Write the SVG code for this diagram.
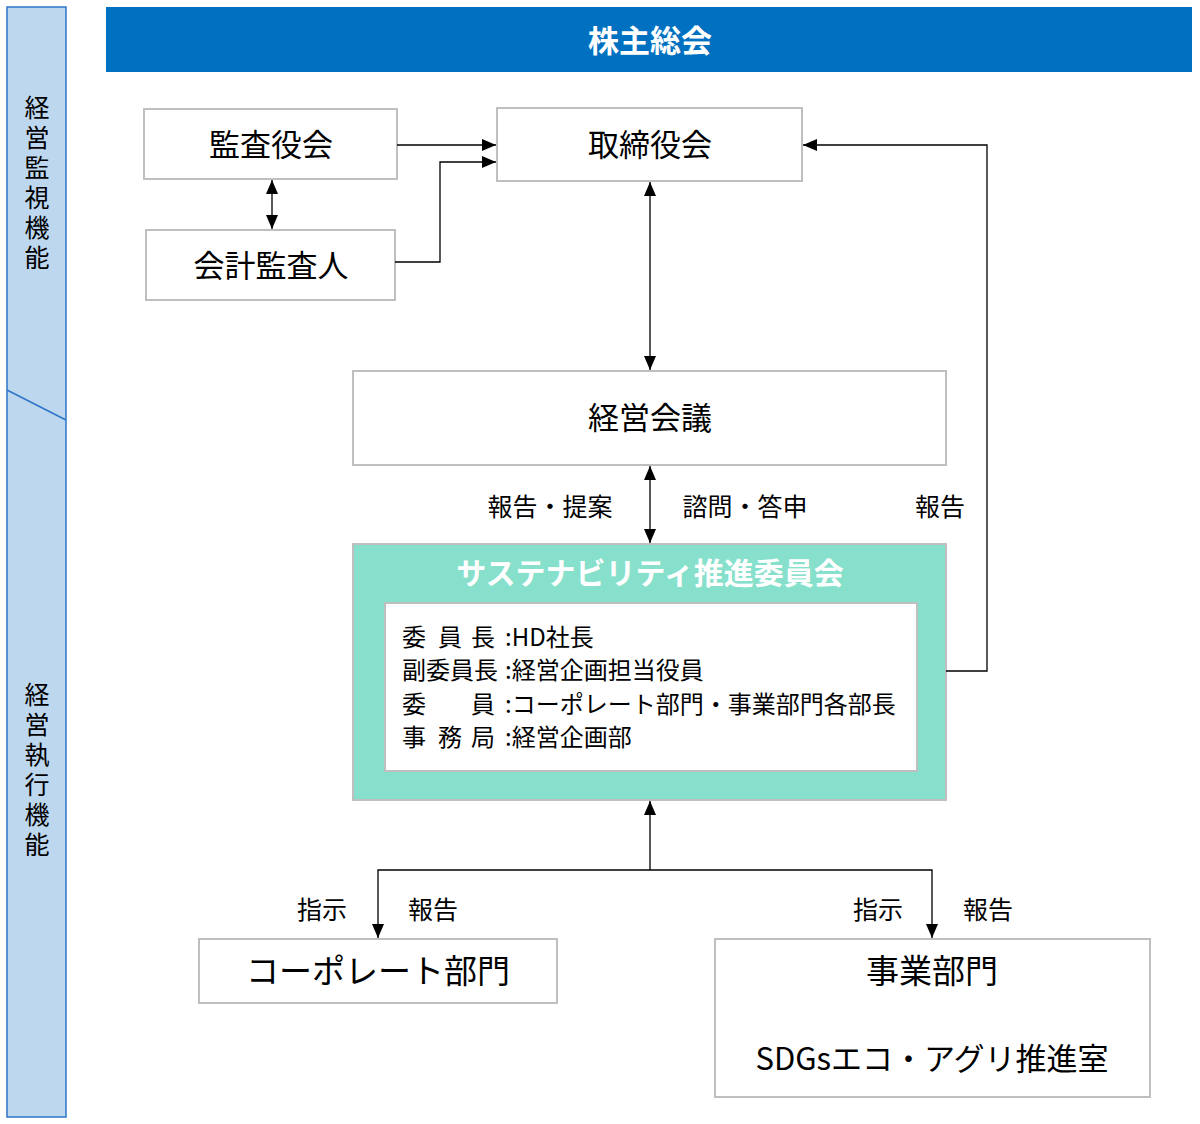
<svg xmlns="http://www.w3.org/2000/svg" width="1200" height="1124" viewBox="0 0 1200 1124">
<style>
text{font-family:"Noto Sans CJK JP","Noto Sans",sans-serif;fill:#000}
.box{fill:#fff;stroke:#BFBFBF;stroke-width:2}
.t32{font-size:31px;text-anchor:middle}
.lbl{font-size:25px;text-anchor:middle}
.side{font-size:25px;writing-mode:vertical-rl;letter-spacing:5px}
.in{font-size:24px}
.con{fill:none;stroke:#000;stroke-width:1.3}
</style>
<defs>
<marker id="ah" markerUnits="userSpaceOnUse" markerWidth="14" markerHeight="12" refX="14" refY="6" orient="auto-start-reverse" viewBox="0 0 14 12">
<path d="M0,0 L14,6 L0,12 z" fill="#000"/>
</marker>
</defs>
<rect width="1200" height="1124" fill="#fff"/>
<g id="sidebar">
<rect x="7" y="7" width="59" height="1110" fill="#BDD7EE" stroke="#2E75C8" stroke-width="1.5"/>
<line x1="7" y1="390" x2="66" y2="420" stroke="#2E75C8" stroke-width="1.5"/>
<text class="side" x="37" y="95">経営監視機能</text>
<text class="side" x="37" y="682">経営執行機能</text>
</g>
<g id="shareholders">
<rect x="106" y="7" width="1086" height="65" fill="#0070C0"/>
<text x="650" y="52" class="t32" style="fill:#fff;font-weight:bold">株主総会</text>
</g>
<g id="auditors">
<rect x="144" y="109" width="253" height="70" class="box"/>
<text x="271" y="156" class="t32">監査役会</text>
</g>
<g id="accountant">
<rect x="146" y="230" width="249" height="70" class="box"/>
<text x="271" y="277" class="t32">会計監査人</text>
</g>
<g id="board">
<rect x="497" y="108" width="305" height="73" class="box"/>
<text x="650" y="156" class="t32">取締役会</text>
</g>
<g id="management">
<rect x="353" y="371" width="593" height="94" class="box"/>
<text x="650" y="429" class="t32">経営会議</text>
</g>
<g id="sustainability">
<rect x="353" y="544" width="593" height="256" fill="#86E0CB" stroke="#BFBFBF" stroke-width="2"/>
<text x="650" y="584" class="t32" style="fill:#fff;font-weight:bold;font-size:30px">サステナビリティ推進委員会</text>
<rect x="385" y="603" width="532" height="168" class="box"/>
<text class="in" y="646"><tspan x="402">委</tspan><tspan x="438">員</tspan><tspan x="471">長</tspan><tspan x="505">:HD社長</tspan></text>
<text class="in" y="679"><tspan x="402">副委員長</tspan><tspan x="505">:経営企画担当役員</tspan></text>
<text class="in" y="713"><tspan x="402">委</tspan><tspan x="471">員</tspan><tspan x="505">:コーポレート部門・事業部門各部長</tspan></text>
<text class="in" y="746"><tspan x="402">事</tspan><tspan x="438">務</tspan><tspan x="471">局</tspan><tspan x="505">:経営企画部</tspan></text>
</g>
<g id="corporate">
<rect x="199" y="939" width="358" height="64" class="box"/>
<text x="378" y="983" class="t32" style="font-size:33px">コーポレート部門</text>
</g>
<g id="business">
<rect x="715" y="939" width="435" height="158" class="box"/>
<text x="932" y="983" class="t32" style="font-size:33px">事業部門</text>
<text x="932" y="1070" class="t32">SDGsエコ・アグリ推進室</text>
</g>
<g id="connectors">
<line x1="272" y1="180" x2="272" y2="229" class="con" marker-start="url(#ah)" marker-end="url(#ah)"/>
<line x1="397" y1="145" x2="496" y2="145" class="con" marker-end="url(#ah)"/>
<polyline points="395,262 440,262 440,162 496,162" class="con" marker-end="url(#ah)"/>
<line x1="650" y1="182" x2="650" y2="370" class="con" marker-start="url(#ah)" marker-end="url(#ah)"/>
<line x1="650" y1="466" x2="650" y2="543" class="con" marker-start="url(#ah)" marker-end="url(#ah)"/>
<polyline points="946,671 987,671 987,145 803,145" class="con" marker-end="url(#ah)"/>
<line x1="650" y1="870" x2="650" y2="801" class="con" marker-end="url(#ah)"/>
<polyline points="378,938 378,870 932,870 932,938" class="con" marker-start="url(#ah)" marker-end="url(#ah)"/>
<text x="550" y="516" class="lbl">報告・提案</text>
<text x="745" y="516" class="lbl">諮問・答申</text>
<text x="940" y="516" class="lbl">報告</text>
<text x="322" y="919" class="lbl">指示</text>
<text x="433" y="919" class="lbl">報告</text>
<text x="878" y="919" class="lbl">指示</text>
<text x="988" y="919" class="lbl">報告</text>
</g>
</svg>
